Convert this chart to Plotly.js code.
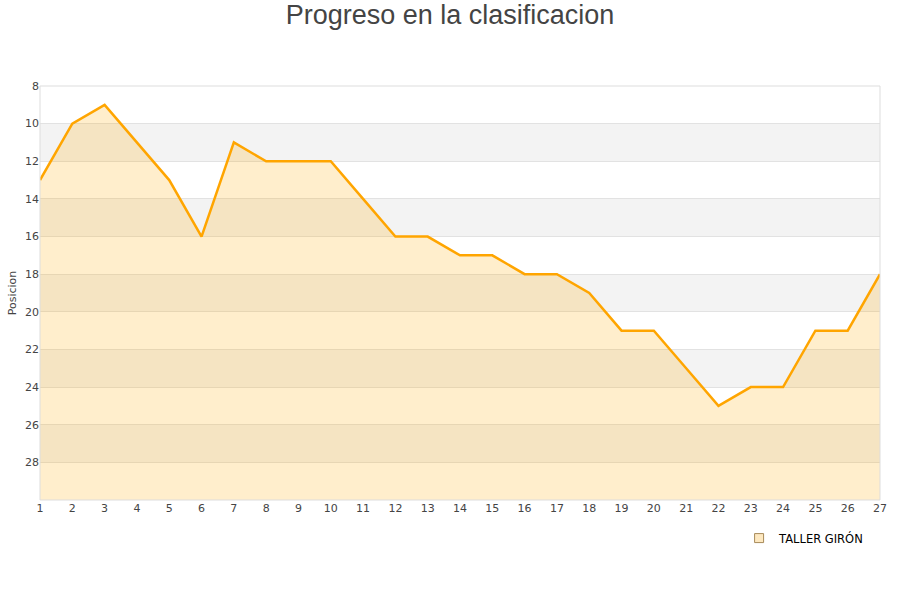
<!DOCTYPE html>
<html><head><meta charset="utf-8">
<script src="https://cdn.plot.ly/plotly-3.0.1.min.js"></script>
<style>body{margin:0;background:#fff}#c{width:900px;height:600px}</style>
</head><body><div id="c"></div>
<script>
const jornadas = [1,2,3,4,5,6,7,8,9,10,11,12,13,14,15,16,17,18,19,20,21,22,23,24,25,26,27];
const posicion = [13,10,9,11,13,16,11,12,12,12,14,16,16,17,17,18,18,19,21,21,23,25,24,24,21,21,18];
const equipo = "TALLER GIRÓN";
const fondo = 30;
const bandas = [[10,12],[14,16],[18,20],[22,24],[26,28]];

const base = jornadas.map(() => fondo);
const traces = [
  {x: jornadas, y: base, mode: 'lines', line: {width: 0, color: 'rgba(0,0,0,0)'}, showlegend: false, hoverinfo: 'skip'},
  {x: jornadas, y: posicion, mode: 'lines', fill: 'tonexty', fillcolor: 'rgba(255,170,0,0.2)',
   line: {color: '#ffa500', width: 2.5}, name: equipo, showlegend: false},
  {x: [null], y: [null], mode: 'markers', name: equipo,
   marker: {symbol: 'square', size: 9, color: '#fde8c0', line: {color: '#a88a5a', width: 1}}}
];
const shapes = bandas.map(b => ({type: 'rect', xref: 'paper', yref: 'y', x0: 0, x1: 1, y0: b[0], y1: b[1],
  fillcolor: '#f3f3f3', line: {width: 0}, layer: 'below'}));
shapes.push({type: 'rect', xref: 'paper', yref: 'paper', x0: 0, x1: 1, y0: 0, y1: 1, line: {color: '#dddddd', width: 1}, fillcolor: 'rgba(0,0,0,0)'});

const layout = {
  width: 900, height: 600,
  margin: {l: 40, r: 20, t: 86, b: 100},
  paper_bgcolor: '#fff', plot_bgcolor: '#fff',
  title: {text: 'Progreso en la clasificacion', x: 0.5, xanchor: 'center', y: 0.992, yanchor: 'top',
    font: {family: 'Liberation Sans, Arial, sans-serif', size: 27, color: '#444'}},
  font: {family: 'DejaVu Sans, sans-serif', size: 11, color: '#444'},
  xaxis: {range: [1, 27], tickmode: 'array', tickvals: jornadas, ticks: '', showgrid: false, zeroline: false,
    showline: false, tickfont: {size: 11, color: '#444'}},
  yaxis: {range: [fondo, 8], tickmode: 'array', tickvals: [8,10,12,14,16,18,20,22,24,26,28], ticks: '',
    showgrid: true, gridcolor: '#e2e2e2', zeroline: false, showline: false,
    title: {text: 'Posicion', font: {size: 11, color: '#444'}, standoff: 6}, tickfont: {size: 11, color: '#444'}},
  shapes: shapes,
  showlegend: true,
  legend: {x: 0.987, xanchor: 'right', y: -0.092, yanchor: 'middle', font: {size: 11.5, color: '#000'},
    bgcolor: 'rgba(0,0,0,0)', itemwidth: 30}
};
Plotly.newPlot('c', traces, layout, {displayModeBar: false});
</script></body></html>
